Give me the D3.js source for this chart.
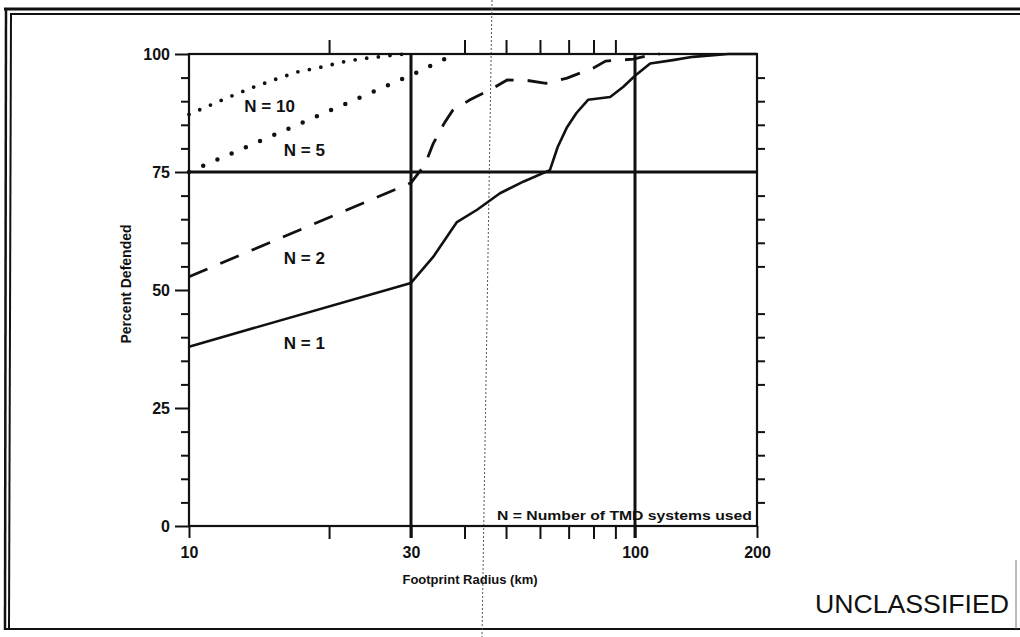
<!DOCTYPE html>
<html>
<head>
<meta charset="utf-8">
<script src="https://cdn.jsdelivr.net/npm/d3@7"></script>
<style>
  body { margin: 0; background: #fff; }
  text { font-family: "Liberation Sans", Arial, sans-serif; fill: #111; }
</style>
</head>
<body>
<svg id="chart" width="1020" height="637"></svg>
<script>
// ---- data (x = footprint radius km, y = percent defended)
var seriesN1 = [[10,38],[30,51.5],[33.8,57],[38.4,64.4],[42.8,67],[48.4,70.5],[55,73],[63.3,75.4],
                [66,80.3],[69.4,84.5],[73,87.5],[77.7,90.3],[87.5,90.9],[93.8,93],[100,95.4],
                [109,98],[124,98.7],[139,99.4],[170,100],[200,100]];
var seriesN2 = [[10,52.8],[30,72.7],[32.3,76.5],[33.8,81],[35.9,85.4],[37.5,88],[41.2,90.3],
                [45.9,92.4],[50.3,94.5],[56,94.4],[62,93.8],[69.4,94.9],[79.8,97],[85.4,98.5],
                [99,98.9],[109,99.8],[115,100]];
var seriesN5 = [[10,75],[30,95.5],[38,100]];
var seriesN10 = [[10,87.2],[12,90.6],[13.6,92.8],[15.3,94.6],[17.1,96.2],[19.2,97.2],
                 [21.4,98.3],[23.5,99],[25.6,99.4],[29,100]];

var xMajorTicks = [10, 30, 100, 200];
var xMinorTicks = [20, 40, 50, 60, 70, 80, 90];
var yMajorTicks = [0, 25, 50, 75, 100];
var refX = [30, 100];   // vertical reference lines
var refY = [75];        // horizontal reference line

var curveLabels = [
  {text: "N = 10", at: [14.9, 87.7]},
  {text: "N = 5",  at: [17.7, 78.4]},
  {text: "N = 2",  at: [17.7, 55.5]},
  {text: "N = 1",  at: [17.7, 37.5]}
];

var svg = d3.select("#chart");

// the axis is a bit stretched in the scan, so the log scale is piecewise
var x = d3.scaleLog()
    .domain([10, 30, 100, 200])
    .range([189, 411, 635, 757]);
var y = d3.scaleLinear()
    .domain([0, 100])
    .range([526, 54]);

var yMinorTicks = d3.range(5, 100, 5).filter(function(v){ return v % 25 !== 0; });

// ---- page frame + scan fold line
var frame = svg.append("g").attr("stroke", "#111").attr("fill", "none");
frame.append("line").attr("x1", 4).attr("x2", 1020).attr("y1", 9).attr("y2", 9).attr("stroke-width", 3);
frame.append("line").attr("x1", 10).attr("x2", 1020).attr("y1", 14).attr("y2", 14).attr("stroke-width", 2);
frame.append("line").attr("x1", 6).attr("x2", 5).attr("y1", 8).attr("y2", 630).attr("stroke-width", 2.5);
frame.append("line").attr("x1", 11).attr("x2", 9).attr("y1", 13).attr("y2", 630).attr("stroke-width", 2);
frame.append("line").attr("x1", 4).attr("x2", 1020).attr("y1", 629).attr("y2", 629).attr("stroke-width", 2);
frame.append("line").attr("x1", 1016).attr("x2", 1016).attr("y1", 560).attr("y2", 629)
    .attr("stroke-width", 1).attr("stroke", "#777");
svg.append("line").attr("x1", 492).attr("y1", 0).attr("x2", 482).attr("y2", 637)
    .attr("stroke", "#555").attr("stroke-width", 1).attr("stroke-dasharray", "2,2");

// ---- axes
function styleAxis(g) {
  g.select(".domain").remove();
  g.selectAll(".tick line").attr("stroke", "#111").attr("stroke-width", 2);
  g.selectAll(".tick text").style("font-size", "16px").style("font-weight", "bold").attr("fill", "#111");
}

svg.append("g")
  .attr("transform", "translate(0," + y(0) + ")")
  .call(d3.axisBottom(x).tickValues(xMajorTicks).tickFormat(d3.format("d")).tickSize(12).tickPadding(9))
  .call(styleAxis);
svg.append("g")
  .attr("transform", "translate(0," + y(0) + ")")
  .call(d3.axisBottom(x).tickValues(xMinorTicks).tickFormat("").tickSize(13))
  .call(styleAxis);
svg.append("g")
  .attr("transform", "translate(0," + y(100) + ")")
  .call(d3.axisTop(x).tickValues(xMinorTicks).tickFormat("").tickSize(14))
  .call(styleAxis);

svg.append("g")
  .attr("transform", "translate(" + x(10) + ",0)")
  .call(d3.axisLeft(y).tickValues(yMajorTicks).tickSize(14).tickPadding(5))
  .call(styleAxis);
svg.append("g")
  .attr("transform", "translate(" + x(10) + ",0)")
  .call(d3.axisLeft(y).tickValues(yMinorTicks).tickFormat("").tickSize(8))
  .call(styleAxis);
svg.append("g")
  .attr("transform", "translate(" + x(200) + ",0)")
  .call(d3.axisRight(y).tickValues(yMinorTicks).tickFormat("").tickSize(8))
  .call(styleAxis);

// plot box
svg.append("rect")
  .attr("x", x(10)).attr("y", y(100))
  .attr("width", x(200) - x(10)).attr("height", y(0) - y(100))
  .attr("fill", "none").attr("stroke", "#111").attr("stroke-width", 2.2);

// reference lines
svg.selectAll(".refx").data(refX).enter().append("line")
  .attr("x1", function(d){ return x(d); }).attr("x2", function(d){ return x(d); })
  .attr("y1", y(100)).attr("y2", y(0) + 12)
  .attr("stroke", "#111").attr("stroke-width", 3);
svg.selectAll(".refy").data(refY).enter().append("line")
  .attr("x1", x(10)).attr("x2", x(200))
  .attr("y1", function(d){ return y(d); }).attr("y2", function(d){ return y(d); })
  .attr("stroke", "#111").attr("stroke-width", 3);

// ---- curves
var line = d3.line().x(function(d){ return x(d[0]); }).y(function(d){ return y(d[1]); });

svg.append("path").datum(seriesN1).attr("d", line)
  .attr("fill", "none").attr("stroke", "#111").attr("stroke-width", 2.6).attr("stroke-linejoin", "round");
svg.append("path").datum(seriesN2).attr("d", line)
  .attr("fill", "none").attr("stroke", "#111").attr("stroke-width", 2.8)
  .attr("stroke-dasharray", "20,14");
svg.append("path").datum(seriesN5).attr("d", line)
  .attr("fill", "none").attr("stroke", "#111").attr("stroke-width", 4.5)
  .attr("stroke-linecap", "round").attr("stroke-dasharray", "0,15.5");
svg.append("path").datum(seriesN10).attr("d", line)
  .attr("fill", "none").attr("stroke", "#111").attr("stroke-width", 3.8)
  .attr("stroke-linecap", "round").attr("stroke-dasharray", "0,11.7");

// ---- text
svg.selectAll(".clabel").data(curveLabels).enter().append("text")
  .attr("x", function(d){ return x(d.at[0]); })
  .attr("y", function(d){ return y(d.at[1]); })
  .attr("text-anchor", "middle")
  .style("font-size", "17px").style("font-weight", "bold")
  .text(function(d){ return d.text; });

svg.append("text")
  .attr("x", 497).attr("y", 520)
  .attr("textLength", 255).attr("lengthAdjust", "spacingAndGlyphs")
  .style("font-size", "12px").style("font-weight", "bold")
  .text("N = Number of TMD systems used");

svg.append("text")
  .attr("x", 470).attr("y", 584)
  .attr("text-anchor", "middle")
  .style("font-size", "13px").style("font-weight", "bold")
  .text("Footprint Radius (km)");

svg.append("text")
  .attr("transform", "translate(131,284) rotate(-90)")
  .attr("text-anchor", "middle")
  .style("font-size", "14px").style("font-weight", "bold")
  .text("Percent Defended");

svg.append("text")
  .attr("x", 815).attr("y", 613)
  .attr("textLength", 194).attr("lengthAdjust", "spacingAndGlyphs")
  .style("font-size", "25px")
  .text("UNCLASSIFIED");
</script>
</body>
</html>
